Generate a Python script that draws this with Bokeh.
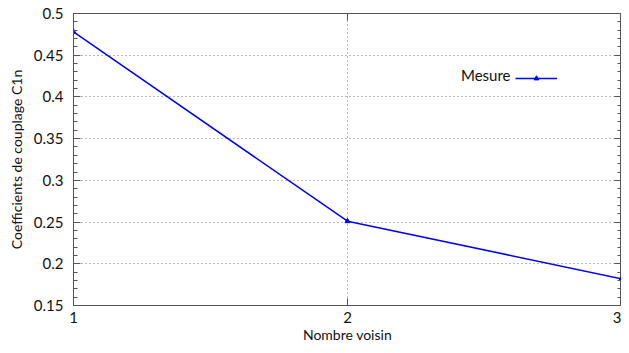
from bokeh.plotting import figure
from bokeh.models import (Range1d, LinearAxis, FixedTicker, Legend, LegendItem, Label)
from bokeh.embed import file_html
from bokeh.resources import INLINE

voisins = [1, 2, 3]
c1n = [0.478, 0.251, 0.182]
y_ticks = [0.15, 0.2, 0.25, 0.3, 0.35, 0.4, 0.45, 0.5]
y_minor = [round(0.15 + i * 0.01, 2) for i in range(36)]
x_ticks = [1, 2, 3]
series_name = "Mesure"

FONT = "Lato"
AX = "#555555"

p = figure(width=621, height=345, output_backend="svg", toolbar_location=None,
           x_range=Range1d(1, 3), y_range=Range1d(0.15, 0.5),
           min_border_left=73, min_border_right=0, min_border_top=13, min_border_bottom=40)
p.outline_line_color = AX
p.background_fill_color = "white"
p.border_fill_color = "white"

r = p.line(voisins, c1n, line_color="#0000ff", line_width=1.5)
s = p.scatter(voisins, c1n, marker="triangle", size=5, color="#0000ff")

def style(ax, labels=True):
    ax.axis_line_color = AX
    ax.major_tick_line_color = AX
    ax.minor_tick_line_color = AX
    ax.major_tick_out = 0
    ax.major_tick_in = 7
    ax.minor_tick_out = 0
    ax.minor_tick_in = 4
    ax.major_label_text_font = FONT
    ax.major_label_text_font_size = "15px"
    ax.major_label_text_color = "#111111"
    ax.axis_label_text_font = FONT
    ax.axis_label_text_font_size = "14px"
    ax.axis_label_text_font_style = "normal"
    ax.axis_label_text_color = "#111111"
    if not labels:
        ax.major_label_text_font_size = "2px"
        ax.major_label_text_color = None
        ax.major_label_standoff = 0

yl = p.yaxis[0]
yl.ticker = FixedTicker(ticks=y_ticks, minor_ticks=y_minor)
yl.axis_label = "Coefficients de couplage C1n"
yl.major_label_standoff = 10
yl.axis_label_standoff = 6
style(yl)

xb = p.xaxis[0]
xb.ticker = FixedTicker(ticks=x_ticks)
xb.axis_label = "Nombre voisin"
xb.major_label_standoff = 6
xb.axis_label_standoff = 0
style(xb)

ra = LinearAxis(ticker=FixedTicker(ticks=y_ticks, minor_ticks=y_minor))
style(ra, labels=False)
p.add_layout(ra, "right")
ta = LinearAxis(ticker=FixedTicker(ticks=x_ticks))
style(ta, labels=False)
p.add_layout(ta, "above")

p.xgrid.ticker = FixedTicker(ticks=x_ticks)
p.ygrid.ticker = FixedTicker(ticks=y_ticks)
for g in (p.xgrid[0], p.ygrid[0]):
    g.grid_line_color = "#777777"
    g.grid_line_dash = "1 3"
    g.grid_line_width = 1

leg = Legend(items=[LegendItem(label=" ", renderers=[r, s])], location=(442, 221),
             padding=0, margin=0, glyph_width=42, glyph_height=12, label_standoff=0,
             label_width=0, border_line_color=None, background_fill_alpha=0,
             label_text_font_size="1px")
p.add_layout(leg, "center")
p.add_layout(Label(x=437, y=231, x_units="screen", y_units="screen", text=series_name,
                   text_font=FONT, text_font_size="15px", text_align="right",
                   text_baseline="middle", text_color="#111111"))

open("out.html", "w").write(file_html(p, INLINE))
